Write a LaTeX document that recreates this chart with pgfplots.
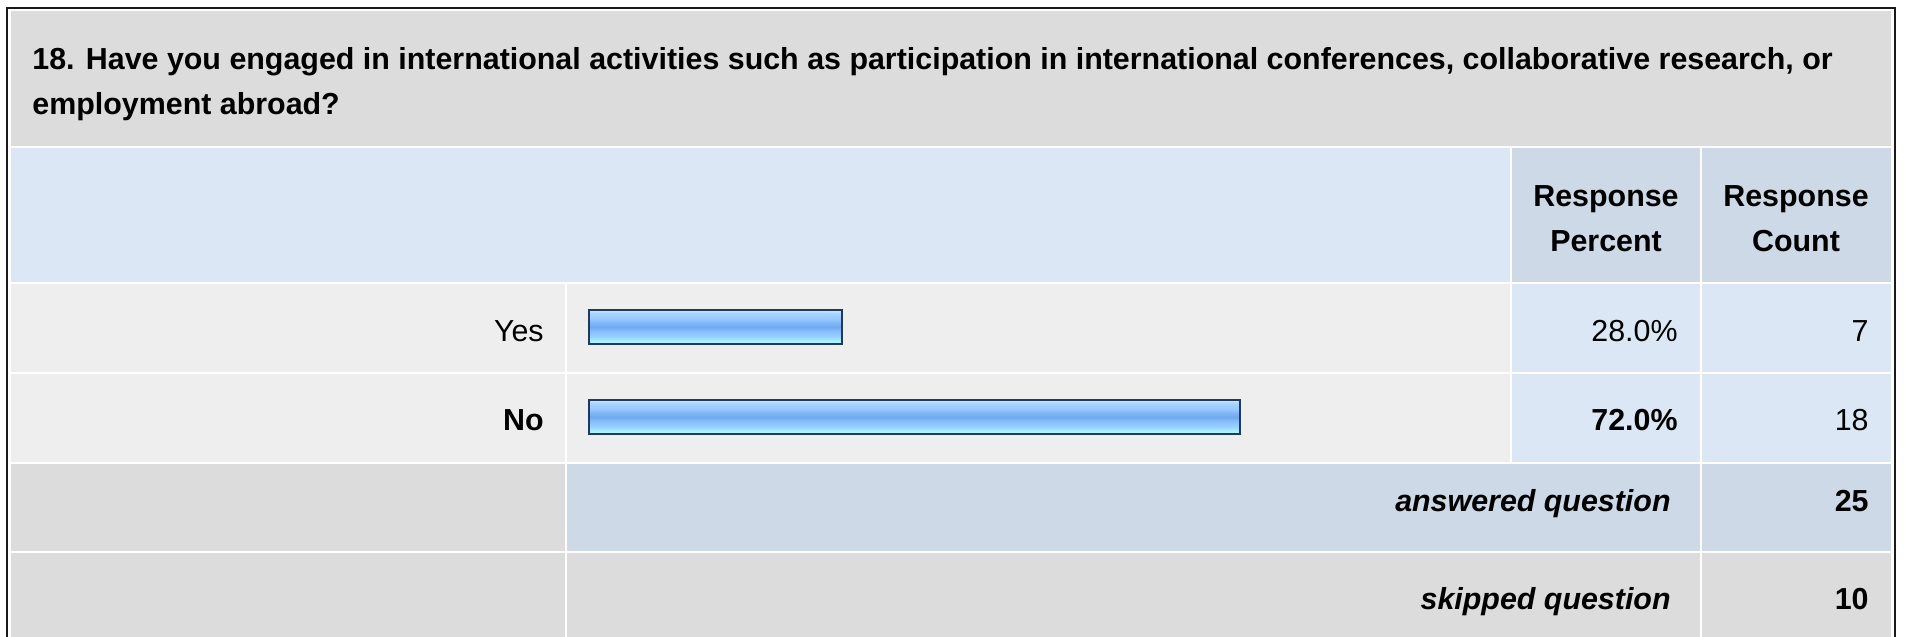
\documentclass[border=0pt]{standalone}
\usepackage{pgfplots}
\pgfplotsset{compat=1.18}
\usepackage{fontspec}
\setmainfont{Liberation Sans}
\definecolor{titlegray}{HTML}{DCDCDC}
\definecolor{hdrblue}{HTML}{DCE7F5}
\definecolor{hdrcell}{HTML}{CDD9E6}
\definecolor{rowgray}{HTML}{EEEEEE}
\definecolor{framec}{HTML}{1A1A1A}
\definecolor{bardraw}{HTML}{1F3A5C}
\definecolor{sA}{HTML}{B4FCFF}
\definecolor{sB}{HTML}{A8EEFF}
\definecolor{sC}{HTML}{98D0FF}
\definecolor{sD}{HTML}{88BEFA}
\definecolor{sE}{HTML}{72A8F0}
\definecolor{sF}{HTML}{80B6F6}
\definecolor{sG}{HTML}{98C8FF}
\definecolor{sH}{HTML}{A8D4FF}
\definecolor{sI}{HTML}{CCE8FF}
\pgfdeclareverticalshading{barshade}{100bp}{color(0bp)=(sA); color(25bp)=(sA);
  color(30bp)=(sB); color(36bp)=(sC); color(44bp)=(sD); color(50bp)=(sE);
  color(56bp)=(sF); color(62bp)=(sG); color(70bp)=(sH); color(75bp)=(sI); color(100bp)=(sI)}
\newcommand{\titlef}{\bfseries\fontsize{15.2}{17}\selectfont}
\newcommand{\bodyf}{\fontsize{15.2}{17}\selectfont}
\begin{document}
\begin{tikzpicture}[x=0.5pt,y=-0.5pt]
\useasboundingbox (0,0) rectangle (1907,637);
\fill[white] (0,0) rectangle (1907,637);
\draw[framec, line width=1.1pt] (7,645) -- (7,8) -- (1895,8) -- (1895,645);
% title
\fill[titlegray] (11,11) rectangle (1891,146);
% header
\fill[hdrblue] (11,148) rectangle (1510,282);
\fill[hdrcell] (1512,148) rectangle (1700,282);
\fill[hdrcell] (1702,148) rectangle (1891,282);
% Yes
\fill[rowgray] (11,284) rectangle (565,372);
\fill[rowgray] (567,284) rectangle (1510,372);
\fill[hdrblue] (1512,284) rectangle (1700,372);
\fill[hdrblue] (1702,284) rectangle (1891,372);
% No
\fill[rowgray] (11,374) rectangle (565,462);
\fill[rowgray] (567,374) rectangle (1510,462);
\fill[hdrblue] (1512,374) rectangle (1700,462);
\fill[hdrblue] (1702,374) rectangle (1891,462);
% answered
\fill[titlegray] (11,464) rectangle (565,551);
\fill[hdrcell] (567,464) rectangle (1700,551);
\fill[hdrcell] (1702,464) rectangle (1891,551);
% skipped
\fill[titlegray] (11,553) rectangle (565,645);
\fill[titlegray] (567,553) rectangle (1700,645);
\fill[titlegray] (1702,553) rectangle (1891,645);

\begin{axis}[at={(294.5pt,0pt)}, anchor=north west, scale only axis,
  width=452pt, height=318.5pt, xmin=0, xmax=100, ymin=0, ymax=637,
  y dir=reverse, hide axis, clip=false]
\addplot[xbar, bar width=17pt, bar shift=0pt, draw=bardraw, line width=0.75pt,
  shading=barshade] coordinates {(28,327)};
\addplot[xbar, bar width=17pt, bar shift=0pt, draw=bardraw, line width=0.75pt,
  shading=barshade] coordinates {(72,417)};
\end{axis}

\node[anchor=base west, inner sep=0, font=\titlef] at (32,69) {18. Have you engaged in international activities such as participation in international conferences, collaborative research, or};
\node[anchor=base west, inner sep=0, font=\titlef] at (32,114) {employment abroad?};

\node[anchor=base, inner sep=0, font=\bodyf\bfseries] at (1606,206) {Response};
\node[anchor=base, inner sep=0, font=\bodyf\bfseries] at (1606,251) {Percent};
\node[anchor=base, inner sep=0, font=\bodyf\bfseries] at (1796,206) {Response};
\node[anchor=base, inner sep=0, font=\bodyf\bfseries] at (1796,251) {Count};

\node[anchor=base east, inner sep=0, font=\bodyf] at (544,341) {Yes};
\node[anchor=base east, inner sep=0, font=\bodyf] at (1678,341) {28.0\%};
\node[anchor=base east, inner sep=0, font=\bodyf] at (1869,341) {7};

\node[anchor=base east, inner sep=0, font=\bodyf\bfseries] at (544,430) {No};
\node[anchor=base east, inner sep=0, font=\bodyf\bfseries] at (1678,430) {72.0\%};
\node[anchor=base east, inner sep=0, font=\bodyf] at (1869,430) {18};

\node[anchor=base east, inner sep=0, font=\bodyf\bfseries\itshape] at (1671,511) {answered question};
\node[anchor=base east, inner sep=0, font=\bodyf\bfseries] at (1869,511) {25};
\node[anchor=base east, inner sep=0, font=\bodyf\bfseries\itshape] at (1671,609) {skipped question};
\node[anchor=base east, inner sep=0, font=\bodyf\bfseries] at (1869,609) {10};
\end{tikzpicture}
\end{document}
